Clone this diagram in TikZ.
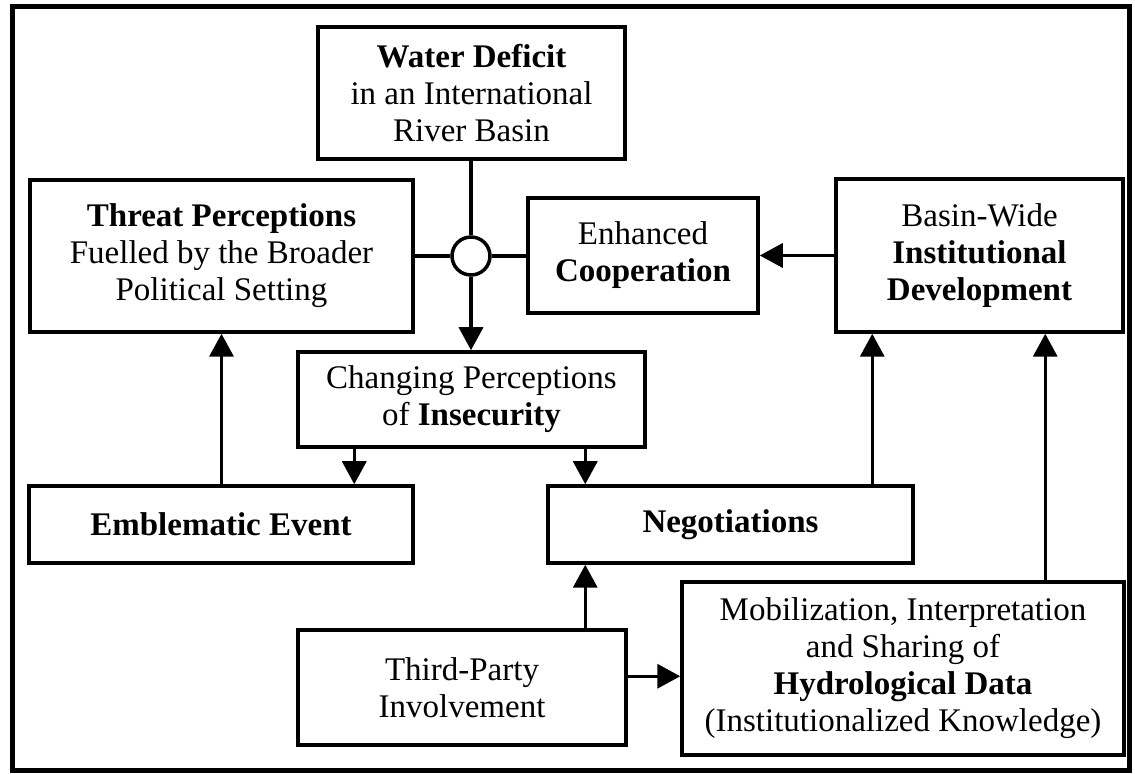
\documentclass[tikz,border=0pt]{standalone}
\usepackage{fontspec}
\setmainfont{Liberation Serif}
\usetikzlibrary{arrows.meta,calc}
\begin{document}
\begin{tikzpicture}[x=0.5pt,y=-0.5pt,
  box/.style={draw,line width=1.75pt,rectangle,align=center,inner sep=0pt,
    font=\fontsize{16.5}{18.5}\selectfont},
  junction/.style={draw,line width=1.75pt,circle,inner sep=0pt,minimum size=19pt,fill=white},
  link/.style={line width=1.75pt},
  arr/.style={line width=1.75pt,-{Triangle[length=11.5pt,width=12pt]}},
]
\useasboundingbox (0,0) rectangle (1135,774);
% outer frame
\draw[line width=2.5pt] (12,7) rectangle (1129,770);

% boxes
\node[box,minimum width=153.5pt,minimum height=66pt] (wd) at (471.5,93)
  {\textbf{Water Deficit}\\in an International\\River Basin};
\node[box,minimum width=191.5pt,minimum height=76pt] (tp) at (221.5,256)
  {\textbf{Threat Perceptions}\\Fuelled by the Broader\\Political Setting};
\node[box,minimum width=115pt,minimum height=57.5pt] (ec) at (643,255.5)
  {Enhanced\\\textbf{Cooperation}};
\node[box,minimum width=143.5pt,minimum height=76.5pt] (bw) at (979.5,255.5)
  {Basin-Wide\\\textbf{Institutional}\\\textbf{Development}};
\node[box,minimum width=173.5pt,minimum height=47.5pt] (cp) at (471.5,399.5)
  {Changing Perceptions\\of \textbf{Insecurity}};
\node[box,minimum width=192pt,minimum height=38.5pt] (ee) at (221,524.5)
  {\textbf{Emblematic Event}};
\node[box,minimum width=182.5pt,minimum height=38.5pt] (ng) at (730.5,524.5)
  {\textbf{Negotiations}};
\node[box,minimum width=164pt,minimum height=57.5pt] (th) at (462,687.5)
  {Third-Party\\Involvement};
\node[box,minimum width=221pt,minimum height=86.5pt] (mb) at (903,668.5)
  {Mobilization, Interpretation\\and Sharing of\\\textbf{Hydrological Data}\\(Institutionalized Knowledge)};

% junction where the deficit meets threat perceptions and cooperation
\node[junction] (jc) at (471,256) {};

% connector anchor points
\coordinate (c1) at ($(cp.south west)+(58,0)$);
\coordinate (c2) at ($(cp.south west)+(289,0)$);
\coordinate (c3) at ($(ng.north west)+(326,0)$);
\coordinate (c4) at ($(mb.north west)+(365,0)$);
\coordinate (c5) at ($(th.north east)+(0,48)$);

% connectors
\draw[link] (jc.north |- wd.south) -- (jc.north);
\draw[link] (tp.east |- jc.west) -- (jc.west);
\draw[link] (jc.east) -- (jc.east -| ec.west);
\draw[arr] (jc.south) -- (jc.south |- cp.north);
\draw[arr] (bw.west) -- (ec.east);
\draw[arr] (ee.north -| tp.south) -- (tp.south);
\draw[arr] (c1) -- (c1 |- ee.north);
\draw[arr] (c2) -- (c2 |- ng.north);
\draw[arr] (c2 |- th.north) -- (c2 |- ng.south);
\draw[arr] (c3) -- (c3 |- bw.south);
\draw[arr] (c4) -- (c4 |- bw.south);
\draw[arr] (c5) -- (c5 -| mb.west);
\end{tikzpicture}
\end{document}
